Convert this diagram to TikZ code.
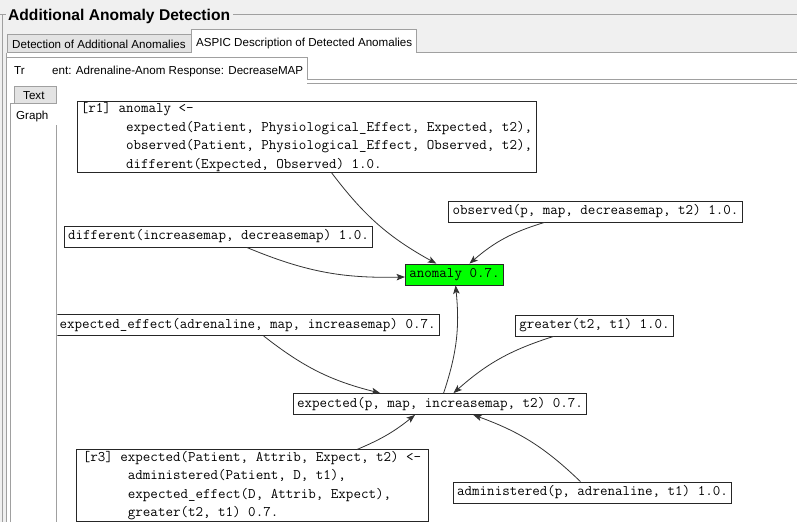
\documentclass[tikz,border=0pt]{standalone}
\usepackage{fontspec}
\newfontfamily\guifont{Liberation Sans}
\usetikzlibrary{arrows.meta}
\definecolor{guibg}{HTML}{F0F0F0}
\definecolor{guiline}{HTML}{A0A0A0}
\definecolor{tabgray}{HTML}{E3E3E3}
\definecolor{anomgreen}{HTML}{00FF00}
\definecolor{edgegray}{HTML}{333333}

\begin{document}
\begin{tikzpicture}[x=1pt, y=1pt,
        fact/.style={rectangle, draw=black!85, line width=0.8pt, fill=white, font=\ttfamily\fontsize{14.6}{15}\selectfont, inner xsep=4pt, inner ysep=0pt, minimum height=21pt},
        rule/.style={fact, align=left, font=\ttfamily\fontsize{14.6}{18.6}\selectfont, inner ysep=1pt},
        conc/.style={fact, fill=anomgreen},
        arrow/.style={-{Stealth[length=8.5pt, width=6.5pt, inset=2pt]}, edgegray, line width=0.8pt},
        frame/.style={draw=guiline, line width=0.8pt},
        tabtext/.style={font=\guifont\fontsize{11.6}{13}\selectfont, inner sep=0pt, anchor=base west}
    ]
        \useasboundingbox[fill=guibg] (0,0) rectangle (797,-522);

        % Group box and title
        \node[font=\guifont\bfseries\fontsize{15.6}{17}\selectfont, inner sep=0pt, anchor=base west] (title) at (8,-20) {Additional Anomaly Detection};
        \draw[frame] (0,-14.5) -- (6,-14.5);
        \draw[frame] (233,-14.5) -- (797,-14.5);
        \draw[frame] (2.5,-14.5) -- (2.5,-522);

        % Outer tabs
        \fill[white] (6.5,-52.5) rectangle (797,-522);
        \draw[frame, fill=tabgray] (7,-52.5) -- (7,-34.5) -- (191,-34.5) -- (191,-52.5);
        \draw[frame, fill=white] (191,-52.5) -- (191,-29.5) -- (416,-29.5) -- (416,-52.5);
        \draw[frame] (6.5,-52.5) -- (191,-52.5);
        \draw[frame] (416,-52.5) -- (797,-52.5);
        \draw[frame] (6.5,-52.5) -- (6.5,-522);
        \node[tabtext] (tabdetect) at (12,-48) {Detection of Additional Anomalies};
        \node[tabtext] (tabaspic) at (196,-46) {ASPIC Description of Detected Anomalies};

        % Inner tab
        \draw[frame, fill=white] (6.5,-82) -- (6.5,-57.5) -- (307,-57.5) -- (307,-79.5);
        \draw[frame] (307,-79.5) -- (797,-79.5);
        \draw[frame] (307,-83.5) -- (797,-83.5);
        \node[tabtext] (tabtr) at (14,-74) {Tr};
        \node[tabtext] (tabtrial) at (52,-74) {ent: Adrenaline-Anom Response: DecreaseMAP};

        % Text / Graph tabs
        \draw[frame, fill=tabgray] (14,-103) -- (14,-86) -- (56.5,-86) -- (56.5,-103);
        \draw[frame, fill=white] (10.5,-522) -- (10.5,-103) -- (56.5,-103);
        \draw[frame] (56.5,-125) -- (56.5,-522);
        \node[tabtext] (tabtext) at (23,-99) {Text};
        \node[tabtext] (tabgraph) at (16,-119) {Graph};

        % Graph panel
        \fill[white] (57.3,-84) rectangle (797,-522);

        % Rules
        \node[rule, minimum width=457pt, minimum height=70pt] (r1) at (306.5,-137) {[r1] anomaly <-\\
            \phantom{xxxxxx}expected(Patient, Physiological\_Effect, Expected, t2),\\
            \phantom{xxxxxx}observed(Patient, Physiological\_Effect, Observed, t2),\\
            \phantom{xxxxxx}different(Expected, Observed) 1.0.};
        \node[rule, minimum width=352pt, minimum height=69pt] (r3) at (252,-485.5) {[r3] expected(Patient, Attrib, Expect, t2) <-\\
            \phantom{xxxxxx}administered(Patient, D, t1),\\
            \phantom{xxxxxx}expected\_effect(D, Attrib, Expect),\\
            \phantom{xxxxxx}greater(t2, t1) 0.7.};

        % Facts
        \node[fact] (observed) at (595.5,-211.5) {observed(p, map, decreasemap, t2) 1.0.};
        \node[fact] (different) at (218.5,-236.5) {different(increasemap, decreasemap) 1.0.};
        \node[conc] (anomaly) at (454.5,-274.5) {anomaly 0.7.};
        \begin{scope}
            \clip (57.3,-84) rectangle (797,-522);
            \node[fact, anchor=east, inner xsep=4pt] (expeff) at (440,-325) {expected\_effect(adrenaline, map, increasemap) 0.7.};
        \end{scope}
        \node[fact] (greater) at (594.5,-325.5) {greater(t2, t1) 1.0.};
        \node[fact] (expected) at (440,-404) {expected(p, map, increasemap, t2) 0.7.};
        \node[fact] (administered) at (592.5,-492.5) {administered(p, adrenaline, t1) 1.0.};

        % Support links
        \foreach \src/\dst in {r1/anomaly, observed/anomaly, different/anomaly, expected/anomaly, expeff/expected, greater/expected, administered/expected}
            \draw[arrow] (\src) to[bend right=12] (\dst);
        \draw[arrow] ([xshift=105pt]r3.north) to[bend right=8] ([xshift=-25pt]expected.south);
    \end{tikzpicture}
\end{document}
